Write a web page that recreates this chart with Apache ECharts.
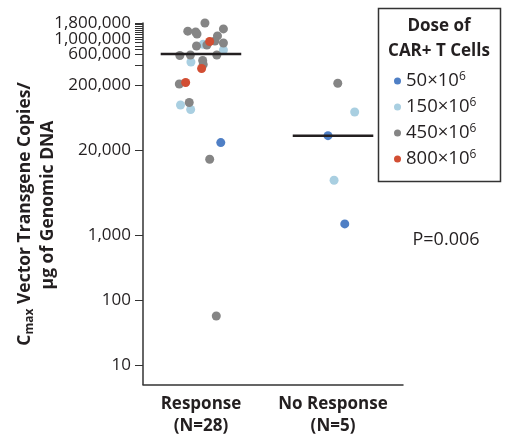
<!DOCTYPE html>
<html>
<head>
<meta charset="utf-8">
<script src="https://cdn.jsdelivr.net/npm/echarts@6/dist/echarts.min.js"></script>
<style>
  html, body { margin: 0; padding: 0; background: #fff; }
  #chart { width: 509px; height: 440px; }
</style>
</head>
<body>
<div id="chart"></div>
<script>
// Response groups on the x axis
const groups = ['Response', 'No Response'];
const groupCounts = [28, 5];

// Dose levels (×10^6 CAR+ T cells) and their colours
const doses = ['50', '150', '450', '800'];
const doseColors = ['#4f7fc5', '#a9cfe1', '#858585', '#d24e33'];

// Each point: [group index, horizontal jitter within the group, Cmax copies/µg]
const dose50 = [
  [0, 0.150, 26100],
  [1, -0.038, 33400], [1, 0.089, 1470]
];
const dose150 = [
  [0, 0.017, 848000], [0, 0.170, 692000], [0, -0.076, 453000],
  [0, -0.155, 98800], [0, -0.078, 84400],
  [1, 0.164, 77000], [1, 0.008, 6880]
];
const dose450 = [
  [0, 0.030, 1800000], [0, -0.100, 1350000], [0, -0.030, 1220000],
  [0, -0.040, 1310000], [0, 0.170, 1460000], [0, 0.125, 1140000],
  [0, -0.034, 798000], [0, 0.170, 887000], [0, 0.045, 826000],
  [0, 0.106, 953000], [0, 0.120, 580000], [0, -0.160, 570000],
  [0, -0.080, 580000], [0, 0.013, 478000], [0, 0.017, 414000],
  [0, -0.164, 208000], [0, -0.089, 108000], [0, 0.066, 14500],
  [0, 0.116, 56.5],
  [1, 0.036, 213000]
];
const dose800 = [
  [0, 0.066, 935000], [0, 0.005, 360000], [0, -0.116, 219000]
];
const doseData = [dose50, dose150, dose450, dose800];

// Median Cmax per group
const medians = [600000, 33400];

// Y-axis ticks and labels (the crowded top labels are split over two
// overlaid axes so that none of them is dropped)
const yTickValues = [10, 100, 1000, 20000, 200000, 400000, 600000, 700000, 800000,
  900000, 1000000, 1100000, 1200000, 1300000, 1400000, 1500000, 1600000, 1700000, 1800000];
const yLabelValues = [10, 100, 1000, 20000, 200000, 600000, 1800000];
const yLabelValuesExtra = [1000000];

const FONT = 'Open Sans';
const INK = '#231f20';
const MEDIAN_HALF_WIDTH = 0.305;

const chart = echarts.init(document.getElementById('chart'), null, { renderer: 'canvas' });

const toPoint = p => [p[0] + 1 + p[1], p[2]];

// Draw order: light blue under grey, blue and red on top
const drawOrder = [1, 2, 0, 3];
const scatterSeries = drawOrder.map(i => ({
  name: doses[i],
  type: 'scatter',
  symbol: 'circle',
  symbolSize: 9,
  itemStyle: { color: doseColors[i], opacity: 1 },
  data: doseData[i].map(toPoint),
  silent: true,
  z: 2
}));

const medianSeries = medians.map((m, gi) => ({
  name: 'median-' + gi,
  type: 'line',
  symbol: 'none',
  silent: true,
  z: 3,
  lineStyle: { color: INK, width: 2.5 },
  data: [[gi + 1 - MEDIAN_HALF_WIDTH, m], [gi + 1 + MEDIAN_HALF_WIDTH, m]]
}));

const fmtNum = v => Number(v).toLocaleString('en-US');

const yLabelStyle = {
  formatter: v => fmtNum(Math.round(v)),
  margin: 12,
  hideOverlap: false,
  fontFamily: FONT, fontSize: 17, color: INK
};

chart.setOption({
  animation: false,
  backgroundColor: '#fff',
  textStyle: { fontFamily: FONT, color: INK },
  grid: { left: 143, right: 106, top: 23, bottom: 55.5, containLabel: false },
  xAxis: {
    type: 'value',
    min: 0.561,
    max: 2.53,
    splitLine: { show: false },
    axisLine: { show: true, lineStyle: { color: '#333', width: 1.5 } },
    axisTick: { show: false },
    axisLabel: {
      customValues: [1, 2],
      margin: 9,
      formatter: v => {
        const gi = Math.round(v) - 1;
        return groups[gi] + '\n(N=' + groupCounts[gi] + ')';
      },
      fontFamily: FONT, fontSize: 17, fontWeight: 'bold', color: INK, lineHeight: 22
    }
  },
  yAxis: [
    {
      type: 'log',
      logBase: 10,
      min: 5,
      max: 1800000,
      position: 'left',
      splitLine: { show: false },
      minorTick: { show: false },
      axisLine: { show: true, lineStyle: { color: '#333', width: 1.5 } },
      axisTick: { show: true, customValues: yTickValues, length: 8, lineStyle: { color: '#333', width: 1 } },
      axisLabel: Object.assign({ customValues: yLabelValues }, yLabelStyle)
    },
    {
      type: 'log',
      logBase: 10,
      min: 5,
      max: 1800000,
      position: 'left',
      offset: 0,
      splitLine: { show: false },
      minorTick: { show: false },
      axisLine: { show: false },
      axisTick: { show: false },
      axisLabel: Object.assign({ customValues: yLabelValuesExtra }, yLabelStyle)
    }
  ],
  legend: {
    data: doses,
    orient: 'vertical',
    left: 389,
    top: 66,
    itemWidth: 7,
    itemHeight: 7,
    itemGap: 6.5,
    icon: 'circle',
    selectedMode: false,
    formatter: name => '{b|' + name + '×10}{s|6}',
    textStyle: {
      rich: {
        b: { fontFamily: FONT, fontSize: 18.5, color: INK, lineHeight: 20 },
        s: { fontFamily: FONT, fontSize: 12, color: INK, lineHeight: 12, verticalAlign: 'top' }
      }
    }
  },
  graphic: [
    {
      type: 'rect',
      shape: { x: 378.5, y: 8.5, width: 122, height: 173 },
      style: { fill: 'none', stroke: '#333', lineWidth: 1.5 },
      z: 10
    },
    {
      type: 'text',
      x: 439, y: 26,
      style: { text: 'Dose of', font: 'bold 17px "' + FONT + '"', fill: INK, align: 'center', verticalAlign: 'middle' },
      z: 10
    },
    {
      type: 'text',
      x: 439, y: 51,
      style: { text: 'CAR+ T Cells', font: 'bold 17px "' + FONT + '"', fill: INK, align: 'center', verticalAlign: 'middle' },
      z: 10
    },
    {
      type: 'text',
      x: 446, y: 240,
      style: { text: 'P=0.006', font: '18px "' + FONT + '"', fill: INK, align: 'center', verticalAlign: 'middle' },
      z: 10
    },
    {
      type: 'text',
      x: 25, y: 214,
      rotation: Math.PI / 2,
      style: {
        text: '{a|C}{s|max}{a| Vector Transgene Copies/}',
        align: 'center', verticalAlign: 'middle',
        rich: {
          a: { fontFamily: FONT, fontSize: 17.5, fontWeight: 'bold', fill: INK, lineHeight: 22 },
          s: { fontFamily: FONT, fontSize: 12, fontWeight: 'bold', fill: INK, lineHeight: 14, verticalAlign: 'bottom' }
        }
      },
      z: 10
    },
    {
      type: 'text',
      x: 48, y: 205,
      rotation: Math.PI / 2,
      style: {
        text: 'μg of Genomic DNA',
        font: 'bold 17.5px "' + FONT + '"', fill: INK,
        align: 'center', verticalAlign: 'middle'
      },
      z: 10
    }
  ],
  series: scatterSeries.concat(medianSeries)
});
</script>
</body>
</html>
